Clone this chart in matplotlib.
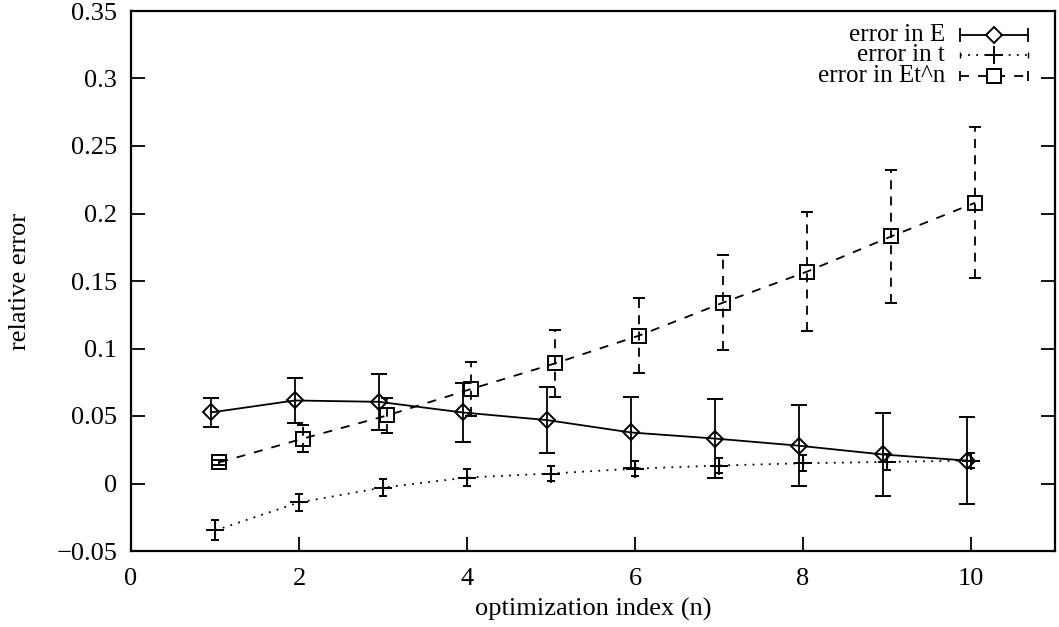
import matplotlib
matplotlib.use("Agg")
import matplotlib.pyplot as plt
import numpy as np

# optimization index
n = np.arange(1, 11)

# relative error in E
err_E = [0.0526, 0.0615, 0.0605, 0.0526, 0.047, 0.0378, 0.0333, 0.028, 0.0215, 0.017]
sd_E = [0.0108, 0.0168, 0.0205, 0.0215, 0.0245, 0.0266, 0.029, 0.030, 0.031, 0.032]

# relative error in t
err_t = [-0.0348, -0.014, -0.003, 0.0044, 0.0074, 0.011, 0.0133, 0.015, 0.016, 0.017]
sd_t = [0.0074, 0.0063, 0.006, 0.006, 0.0058, 0.0058, 0.0058, 0.0058, 0.0058, 0.0058]

# relative error in E t^n
err_Etn = [0.0156, 0.0333, 0.0504, 0.070, 0.089, 0.1096, 0.134, 0.157, 0.183, 0.208]
sd_Etn = [0.002, 0.0097, 0.013, 0.02, 0.025, 0.028, 0.035, 0.044, 0.049, 0.056]

labels = ["error in E", "error in t", "error in Et^n"]

plt.rcParams["font.family"] = ["Liberation Serif", "DejaVu Serif"]
plt.rcParams["font.size"] = 19

fig = plt.figure(figsize=(10.59, 6.27), dpi=100)
ax = fig.add_axes([131 / 1059, 76 / 627, 924 / 1059, 540 / 627])

lw = 1.3
shift = 0.05

c = ax.errorbar(n - shift, err_E, yerr=sd_E, color="black", lw=lw, ls="-",
                marker="D", ms=8, mfc="none", mec="black", mew=1.4,
                capsize=6, capthick=lw, elinewidth=lw)

c = ax.errorbar(n, err_t, yerr=sd_t, color="black", lw=lw, ls=(0, (1, 3.5)),
                marker="+", ms=13, mew=1.4,
                capsize=3, capthick=1.0, elinewidth=1.0)
c[2][0].set_linestyle((0, (1, 3)))

c = ax.errorbar(n + shift, err_Etn, yerr=sd_Etn, color="black", lw=lw, ls=(0, (5, 5)),
                marker="s", ms=10, mfc="none", mec="black", mew=1.4,
                capsize=4, capthick=lw, elinewidth=lw)
c[2][0].set_linestyle((0, (5, 4)))

ax.set_xlim(0, 11)
ax.set_ylim(-0.05, 0.35)
ax.set_xticks([0, 2, 4, 6, 8, 10])
ax.set_yticks(np.arange(-0.05, 0.351, 0.05))
ax.set_yticklabels(["\u22120.05", "0", "0.05", "0.1", "0.15", "0.2", "0.25", "0.3", "0.35"])
ax.tick_params(axis="both", direction="in", length=10, width=1.3, labelsize=19)
ax.tick_params(axis="y", right=True, pad=10)
ax.tick_params(axis="x", top=False, pad=12)
for s in ax.spines.values():
    s.set_linewidth(1.6)

ax.set_xlabel("optimization index (n)", fontsize=19, labelpad=6)
ax.set_ylabel("relative error", fontsize=19, labelpad=18)

# key in the upper right corner
tx, x0, x1 = 0.881, 0.897, 0.971
xm = (x0 + x1) / 2
rows = [0.956, 0.918, 0.880]
kfs = 18
tr = ax.transAxes
ax.text(tx, rows[0], labels[0], transform=tr, ha="right", va="center", fontsize=kfs)
ax.plot([x0, x1], [rows[0]] * 2, transform=tr, color="black", lw=lw, clip_on=False)
ax.plot([x0, x1], [rows[0]] * 2, transform=tr, ls="none", marker="|", ms=10,
        mew=lw, color="black", clip_on=False)
ax.plot([xm], [rows[0]], transform=tr, marker="D", ms=8, mfc="white", mec="black",
        mew=1.4, clip_on=False)

ax.text(tx, rows[1], labels[1], transform=tr, ha="right", va="center", fontsize=kfs)
ax.plot([x0, x1], [rows[1]] * 2, transform=tr, color="black", lw=lw,
        ls=(0, (1, 3.5)), clip_on=False)
ax.plot([x0, x1], [rows[1]] * 2, transform=tr, ls="none", marker="|", ms=5,
        mew=1.0, color="black", clip_on=False)
ax.plot([xm], [rows[1]], transform=tr, marker="+", ms=13, mew=1.4, color="black",
        clip_on=False)

ax.text(tx, rows[2], labels[2], transform=tr, ha="right", va="center", fontsize=kfs)
ax.plot([x0, x1], [rows[2]] * 2, transform=tr, color="black", lw=lw,
        ls=(0, (5, 5)), clip_on=False)
ax.plot([x0, x1], [rows[2]] * 2, transform=tr, ls="none", marker="|", ms=7,
        mew=lw, color="black", clip_on=False)
ax.plot([xm], [rows[2]], transform=tr, marker="s", ms=10, mfc="white", mec="black",
        mew=1.4, clip_on=False)

fig.savefig("out.png", dpi=100)
